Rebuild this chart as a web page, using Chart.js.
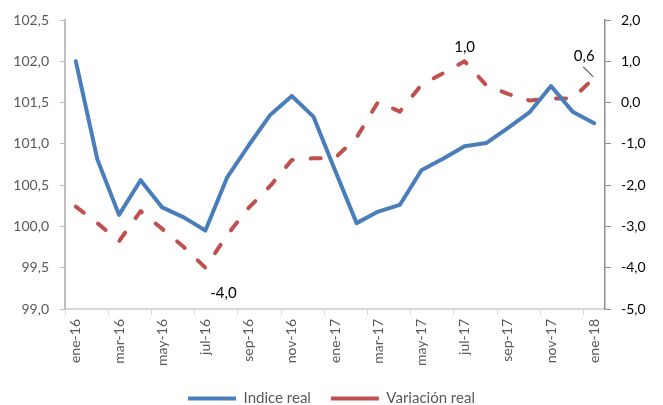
<!DOCTYPE html>
<html>
<head>
<meta charset="utf-8">
<script src="https://cdn.jsdelivr.net/npm/chart.js@4.4.1/dist/chart.umd.min.js"></script>
<style>
  html, body { margin: 0; padding: 0; background: #fff; }
  #wrap { width: 663px; height: 405px; position: relative; }
</style>
</head>
<body>
<div id="wrap"><canvas id="chart-canvas"></canvas></div>
<script>
'use strict';

const months = [
    'ene-16', 'feb-16', 'mar-16', 'abr-16', 'may-16', 'jun-16', 'jul-16', 'ago-16',
    'sep-16', 'oct-16', 'nov-16', 'dic-16', 'ene-17', 'feb-17', 'mar-17', 'abr-17',
    'may-17', 'jun-17', 'jul-17', 'ago-17', 'sep-17', 'oct-17', 'nov-17', 'dic-17', 'ene-18'
];
const indiceReal = [
    102.0, 100.81, 100.14, 100.56, 100.23, 100.11, 99.95, 100.59,
    100.98, 101.35, 101.58, 101.33, 100.68, 100.04, 100.18, 100.26,
    100.68, 100.82, 100.97, 101.01, 101.19, 101.38, 101.70, 101.39, 101.25
];
const variacionReal = [
    -2.52, -2.92, -3.36, -2.63, -3.06, -3.5, -4.0, -3.21,
    -2.55, -2.02, -1.39, -1.35, -1.34, -0.85, 0.02, -0.22,
    0.43, 0.71, 1.0, 0.42, 0.21, 0.05, 0.10, 0.10, 0.6
];
// value labels shown on the red series: [index, dx, dy, leader line]
const shownLabels = [[6, 18, 25, false], [18, 0, -14, false], [24, -10, -22, true]];

const fmt = (v, d) => v.toFixed(d).replace('.', ',');
const FONT = 'Lato, "Open Sans", sans-serif';

const valueLabels = {
    id: 'valueLabels',
    afterDatasetsDraw(chart) {
        const ctx = chart.ctx;
        const meta = chart.getDatasetMeta(1);
        ctx.save();
        ctx.font = '15px ' + FONT;
        ctx.fillStyle = '#000';
        ctx.textAlign = 'center';
        ctx.textBaseline = 'middle';
        shownLabels.forEach(([i, dx, dy, leader]) => {
            const pt = meta.data[i];
            ctx.fillText(fmt(variacionReal[i], 1), pt.x + dx, pt.y + dy);
            if (leader) {
                ctx.strokeStyle = '#000';
                ctx.lineWidth = 1;
                ctx.beginPath();
                ctx.moveTo(pt.x - 11, pt.y - 11);
                ctx.lineTo(pt.x - 1, pt.y - 1);
                ctx.stroke();
            }
        });
        ctx.restore();
    }
};

new Chart(document.getElementById('chart-canvas').getContext('2d'), {
    type: 'line',
    data: {
        labels: months,
        datasets: [{
            label: 'Indice real',
            data: indiceReal,
            yAxisID: 'y',
            borderColor: '#4a7ebb',
            backgroundColor: '#4a7ebb',
            borderWidth: 4,
            borderJoinStyle: 'round',
            borderCapStyle: 'round',
            pointRadius: 0,
            tension: 0
        }, {
            label: 'Variación real',
            data: variacionReal,
            yAxisID: 'y1',
            borderColor: '#c0504d',
            backgroundColor: '#c0504d',
            borderWidth: 4,
            borderDash: [10, 18],
            borderCapStyle: 'round',
            borderJoinStyle: 'round',
            pointRadius: 0,
            tension: 0
        }]
    },
    options: {
        responsive: true,
        maintainAspectRatio: false,
        animation: false,
        layout: { padding: { top: 20, left: 0, right: 0, bottom: -11 } },
        plugins: {
            legend: {
                position: 'bottom',
                labels: {
                    usePointStyle: true,
                    pointStyle: 'line',
                    pointStyleWidth: 48,
                    padding: 20,
                    color: '#595959',
                    font: { family: FONT, size: 15 }
                }
            },
            tooltip: { enabled: false }
        },
        scales: {
            x: {
                offset: true,
                grid: {
                    offset: true,
                    drawOnChartArea: false,
                    tickLength: 6,
                    tickColor: (c) => (c.index % 2 === 0 ? '#d9d9d9' : 'rgba(0,0,0,0)')
                },
                border: { color: '#d9d9d9', width: 2 },
                ticks: {
                    autoSkip: false,
                    maxRotation: 90,
                    minRotation: 90,
                    padding: 4,
                    color: '#595959',
                    font: { family: FONT, size: 14 },
                    callback: (v, i) => (i % 2 === 0 ? months[i] : '')
                },
                afterFit: (s) => { s.height = 62; }
            },
            y: {
                position: 'left',
                min: 99,
                max: 102.5,
                grid: { drawOnChartArea: false, tickLength: 5, color: '#bfbfbf' },
                border: { color: '#bfbfbf', width: 2 },
                ticks: {
                    stepSize: 0.5,
                    padding: 11,
                    color: '#595959',
                    font: { family: FONT, size: 14 },
                    callback: (v) => fmt(v, 1)
                },
                afterFit: (s) => { s.width = 65; }
            },
            y1: {
                position: 'right',
                min: -5,
                max: 2,
                grid: { drawOnChartArea: false, tickLength: 6, color: '#8c8c8c' },
                border: { color: '#8c8c8c', width: 1.5 },
                ticks: {
                    stepSize: 1,
                    padding: 10,
                    color: '#000',
                    font: { family: FONT, size: 14 },
                    callback: (v) => fmt(v, 1)
                },
                afterFit: (s) => { s.width = 58; }
            }
        }
    },
    plugins: [valueLabels]
});
</script>
</body>
</html>
